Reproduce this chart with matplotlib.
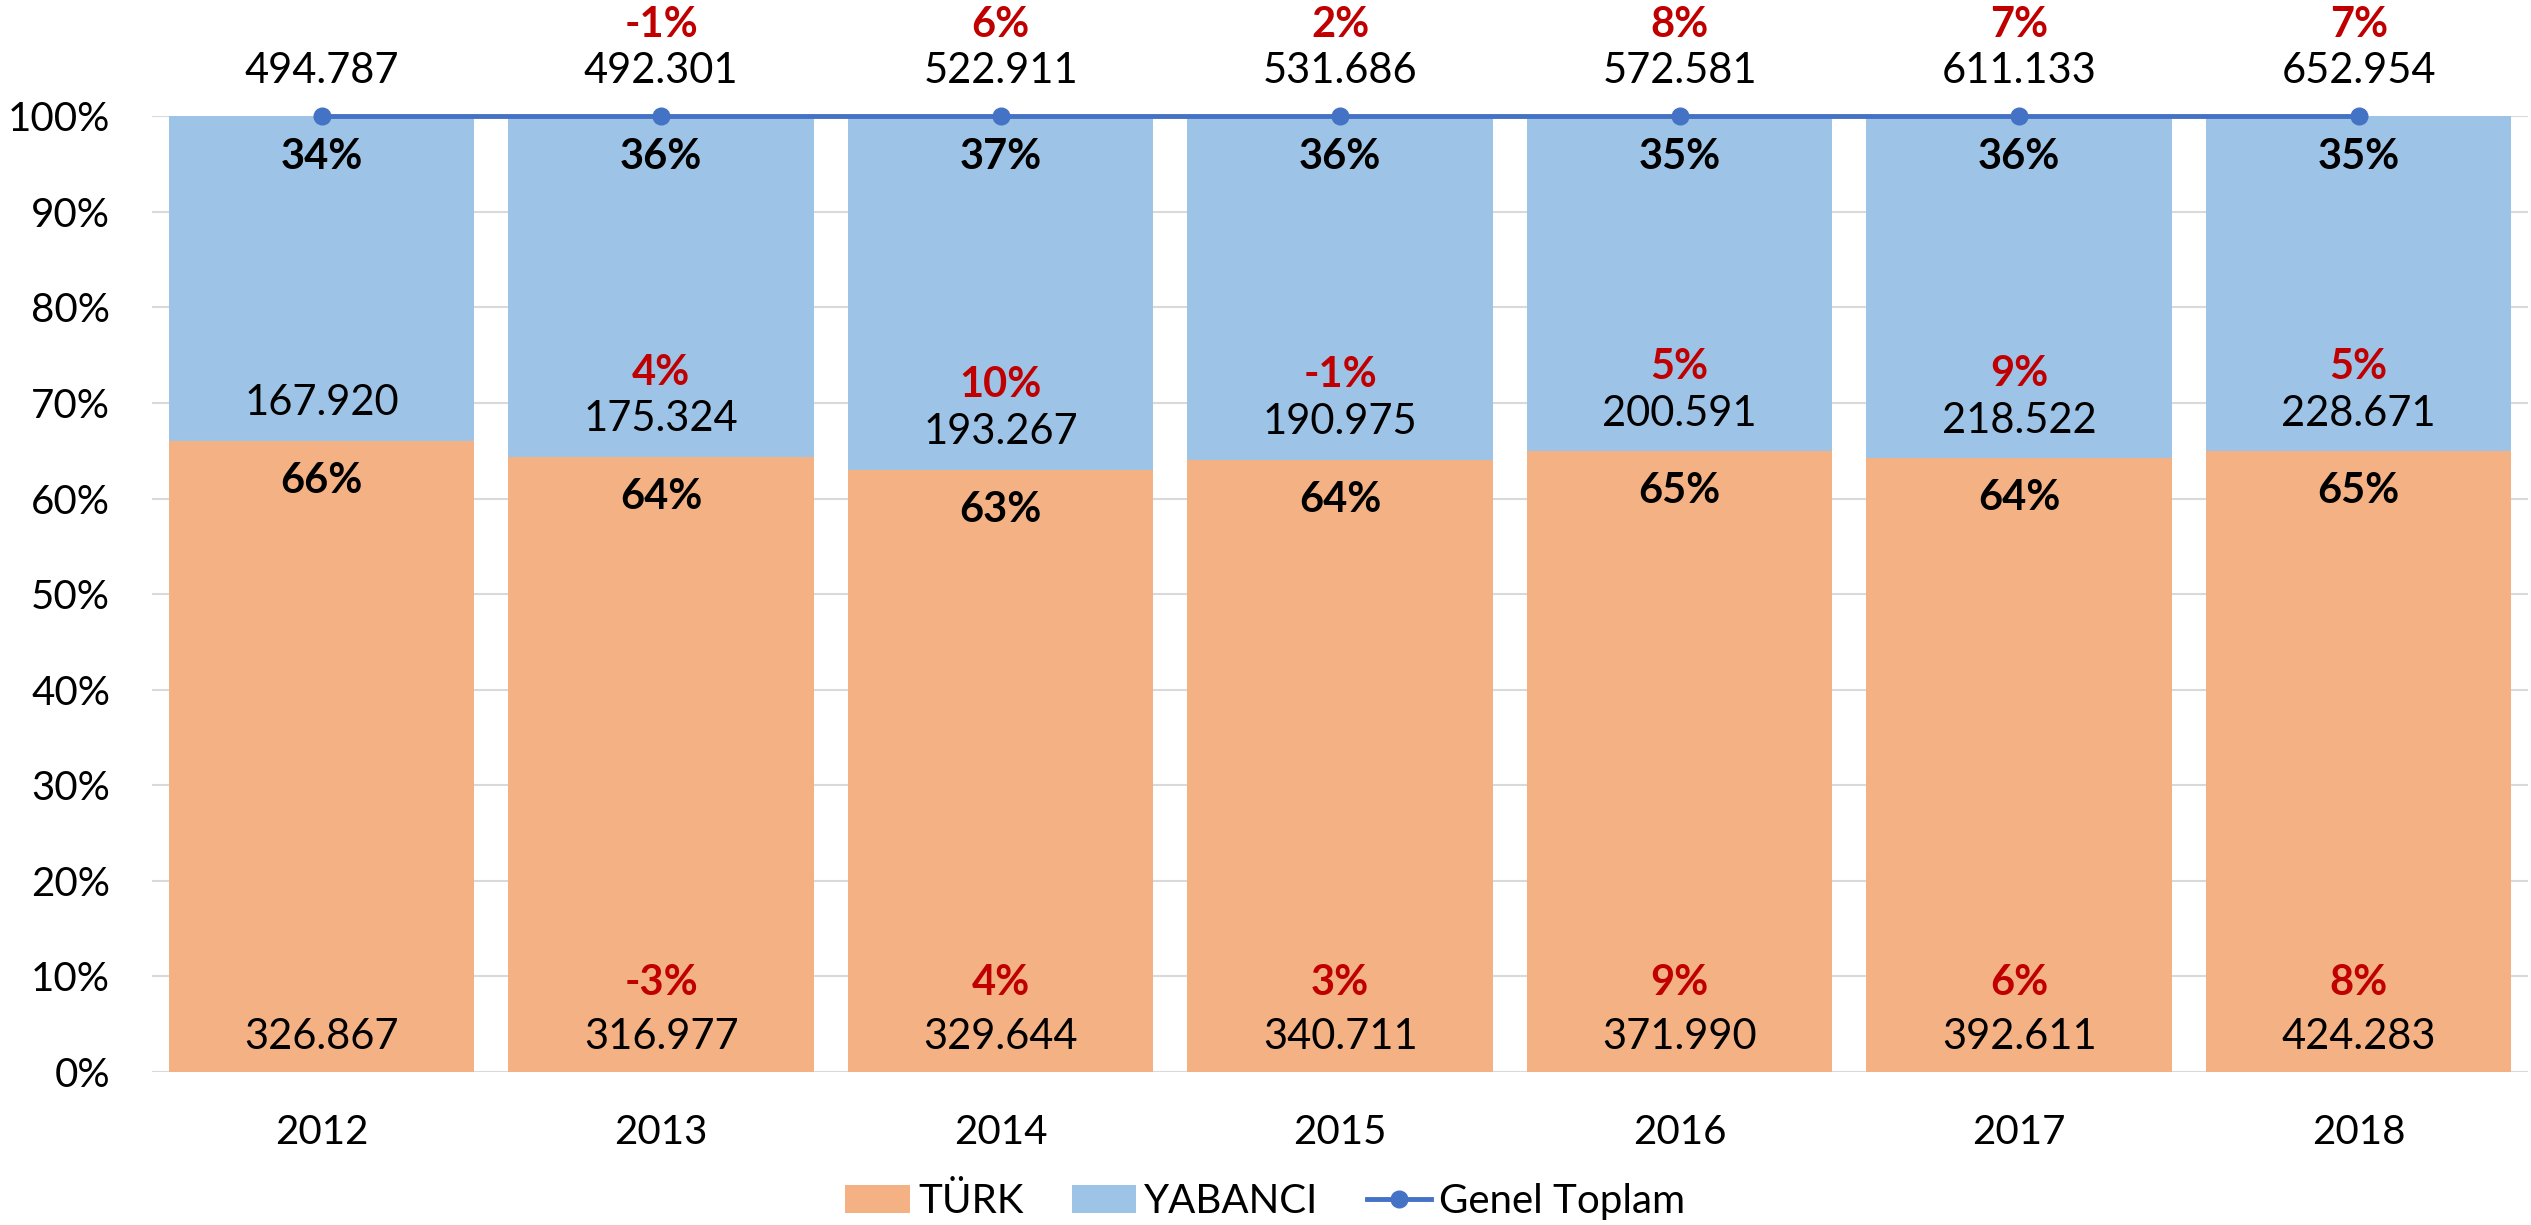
import numpy as np
import matplotlib.pyplot as plt
from matplotlib.ticker import PercentFormatter

plt.rcParams['font.family'] = ['Lato', 'DejaVu Sans']

years = ['2012', '2013', '2014', '2015', '2016', '2017', '2018']
turk = [326867, 316977, 329644, 340711, 371990, 392611, 424283]
yabanci = [167920, 175324, 193267, 190975, 200591, 218522, 228671]
genel_toplam = [494787, 492301, 522911, 531686, 572581, 611133, 652954]

c_turk = '#F4B183'
c_yab = '#9DC3E6'
c_line = '#4472C4'
c_red = '#C00000'


def fmt_num(v):
    return f"{v:,}".replace(',', '.')


def growth(vals):
    out = [None]
    for i in range(1, len(vals)):
        out.append(round((vals[i] / vals[i - 1] - 1) * 100))
    return out


turk = np.array(turk)
yabanci = np.array(yabanci)
total = np.array(genel_toplam)
turk_sh = turk / total
yab_sh = yabanci / total
x = np.arange(len(years))

fig = plt.figure(figsize=(25.31, 12.25), dpi=100)
ax = fig.add_axes([0.060, 0.125, 0.939, 0.780])

b1 = ax.bar(x, turk_sh, width=0.9, color=c_turk, label='TÜRK', zorder=2)
b2 = ax.bar(x, yab_sh, width=0.9, bottom=turk_sh, color=c_yab, label='YABANCI', zorder=2)
ln, = ax.plot(x, total / total, color=c_line, lw=3.5, marker='o', markersize=12,
              label='Genel Toplam', zorder=4, clip_on=False)

ax.set_xlim(-0.5, len(years) - 0.5)
ax.set_ylim(0, 1)
ax.set_yticks(np.arange(0, 1.01, 0.1))
ax.yaxis.set_major_formatter(PercentFormatter(1.0, decimals=0))
ax.grid(axis='y', color='#D9D9D9', lw=1.5, zorder=0)
ax.set_axisbelow(True)
for s in ax.spines.values():
    s.set_visible(False)
ax.tick_params(axis='both', length=0, labelsize=29)
ax.tick_params(axis='y', pad=30)
ax.tick_params(axis='x', pad=30)
ax.set_xticks(x)
ax.set_xticklabels(years)

fs = 30
g_tot = growth(total)
g_turk = growth(turk)
g_yab = growth(yabanci)
for i in range(len(years)):
    # totals above 100%
    ax.text(x[i], 1.047, fmt_num(total[i]), ha='center', va='center', fontsize=fs, clip_on=False)
    if g_tot[i] is not None:
        ax.text(x[i], 1.096, f"{g_tot[i]}%", ha='center', va='center', fontsize=fs,
                color=c_red, fontweight='bold', clip_on=False)
    # yabanci share
    ax.text(x[i], 0.958, f"{yab_sh[i]*100:.0f}%", ha='center', va='center', fontsize=fs,
            fontweight='bold')
    # yabanci count above boundary
    ax.text(x[i], turk_sh[i] + 0.039, fmt_num(yabanci[i]), ha='center', va='center', fontsize=fs)
    if g_yab[i] is not None:
        ax.text(x[i], turk_sh[i] + 0.088, f"{g_yab[i]}%", ha='center', va='center', fontsize=fs,
                color=c_red, fontweight='bold')
    # turk share below boundary
    ax.text(x[i], turk_sh[i] - 0.042, f"{turk_sh[i]*100:.0f}%", ha='center', va='center',
            fontsize=fs, fontweight='bold')
    # turk count near bottom
    ax.text(x[i], 0.036, fmt_num(turk[i]), ha='center', va='center', fontsize=fs)
    if g_turk[i] is not None:
        ax.text(x[i], 0.093, f"{g_turk[i]}%", ha='center', va='center', fontsize=fs,
                color=c_red, fontweight='bold')

fig.legend(handles=[b1, b2, ln], loc='center', bbox_to_anchor=(0.5, 0.019), ncol=3,
           frameon=False, fontsize=29, handlelength=1.6, handletextpad=0.2, columnspacing=1.2)

fig.savefig('out.png', dpi=100)
